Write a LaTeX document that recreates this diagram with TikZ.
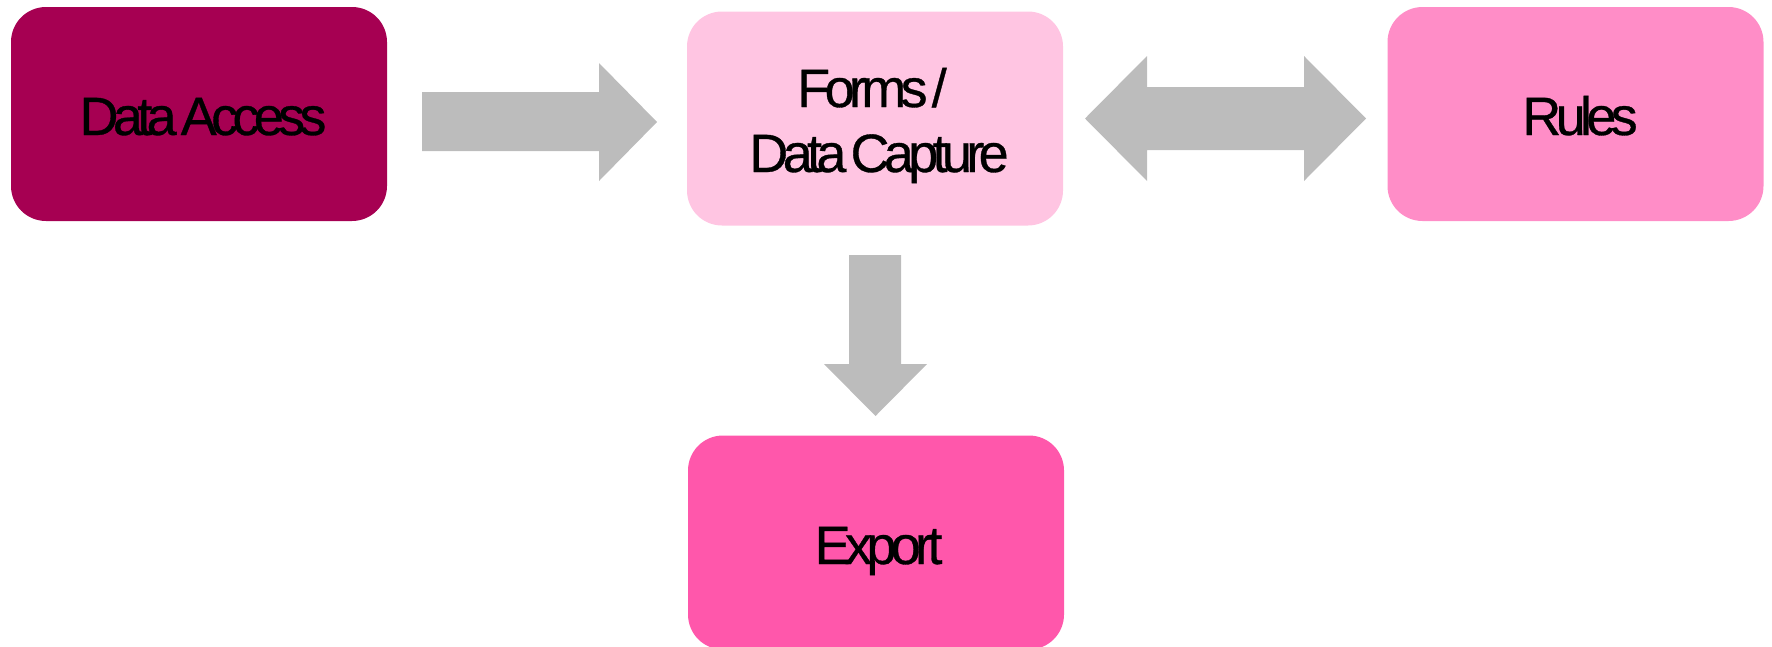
\documentclass[tikz,border=0pt]{standalone}
\usepackage{fontspec}
\newfontfamily\lblfont[LetterSpace=-10.5, WordSpace=0.45, FakeBold=0.6]{Liberation Sans}
\definecolor{daccess}{RGB}{166,0,82}
\definecolor{formsc}{RGB}{255,197,226}
\definecolor{rulesc}{RGB}{255,141,199}
\definecolor{exportc}{RGB}{255,87,171}
\definecolor{arrowc}{RGB}{188,188,188}
\begin{document}
\begin{tikzpicture}[x=1pt,y=-1pt,
  box/.style={rectangle, rounded corners=35pt, inner sep=0pt, draw=none,
    minimum width=376pt, minimum height=214pt},
  lbl/.style={inner sep=0pt, anchor=base, font=\lblfont\fontsize{54}{65}\selectfont, text=black},
  blockarrow/.style={fill=arrowc, draw=none}]
\useasboundingbox (0,0) rectangle (1772,646);
\begin{scope}
\clip (0,0) rectangle (1772,646);
\node[box, fill=daccess] (da) at (199,114) {};
\node[box, fill=formsc] (fc) at (875,118.5) {};
\node[box, fill=rulesc] (ru) at (1575.5,114) {};
\node[box, fill=exportc] (ex) at (876,542.5) {};
\end{scope}
% block arrows
\fill[blockarrow] (422,92) -- (599,92) -- (599,63) -- (657,122) -- (599,181) -- (599,151) -- (422,151) -- cycle;
\fill[blockarrow] (1085,118.5) -- (1147,56) -- (1147,87) -- (1304,87) -- (1304,56) -- (1366,118.5)
  -- (1304,181) -- (1304,150) -- (1147,150) -- (1147,181) -- cycle;
\fill[blockarrow] (849,255) -- (901,255) -- (901,364) -- (927,364) -- (875.5,416) -- (824,364) -- (849,364) -- cycle;
% labels
\node[lbl] (tda) at (203,135) {Data Access};
\node[lbl] (tfc1) at (872,107) {Forms /};
\node[lbl] (tfc2) at (879,172) {Data Capture};
\node[lbl] (tru) at (1580,135) {Rules};
\node[lbl] (tex) at (878.5,564) {Export};
\end{tikzpicture}
\end{document}
